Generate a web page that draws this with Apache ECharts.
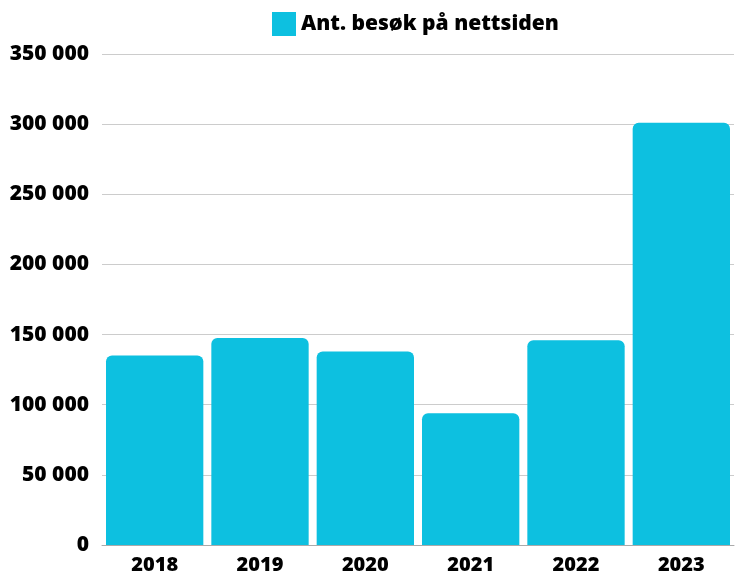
<!DOCTYPE html>
<html>
<head>
<meta charset="utf-8">
<script src="https://cdn.jsdelivr.net/npm/echarts@6/dist/echarts.min.js"></script>
<style>
  html, body { margin: 0; padding: 0; background: #fff; }
  #chart1 { width: 735px; height: 575px; }
</style>
</head>
<body>
<div id="chart1"></div>
<script>
var years = ['2018', '2019', '2020', '2021', '2022', '2023']
var visits = [135000, 147500, 138000, 94000, 146000, 301000]
var seriesName = 'Ant. besøk på nettsiden'

var chart1 = echarts.init(document.getElementById('chart1'))
var option = {
  color: ['#0dc0e0'],
  textStyle: { fontFamily: 'Open Sans' },
  legend: {
    data: [seriesName],
    left: 267,
    top: 7,
    itemWidth: 24,
    itemHeight: 24,
    itemGap: 10,
    icon: 'rect',
    textStyle: {
      color: '#000',
      fontSize: 21,
      fontWeight: 800,
      fontFamily: 'Open Sans'
    }
  },
  grid: {
    left: 102,
    right: 1,
    top: 54,
    bottom: 28,
    containLabel: false
  },
  xAxis: {
    type: 'category',
    data: years,
    axisLine: { lineStyle: { color: '#aaaaaa', width: 1 } },
    axisTick: { show: false },
    axisLabel: {
      color: '#000',
      fontSize: 20,
      fontWeight: 800,
      margin: 10
    }
  },
  yAxis: {
    type: 'value',
    min: 0,
    max: 350000,
    interval: 50000,
    axisLine: { show: false },
    axisTick: { show: false },
    axisLabel: {
      color: '#000',
      fontSize: 21,
      fontWeight: 800,
      margin: 13,
      formatter: function (v) {
        return String(v).replace(/\B(?=(\d{3})+(?!\d))/g, ' ')
      }
    },
    splitLine: { lineStyle: { color: '#cccccc', width: 1 } }
  },
  series: [
    {
      name: seriesName,
      type: 'bar',
      data: visits,
      barCategoryGap: '7.6%',
      itemStyle: { borderRadius: [6, 6, 0, 0] }
    }
  ]
}
chart1.setOption(option)
</script>
</body>
</html>
